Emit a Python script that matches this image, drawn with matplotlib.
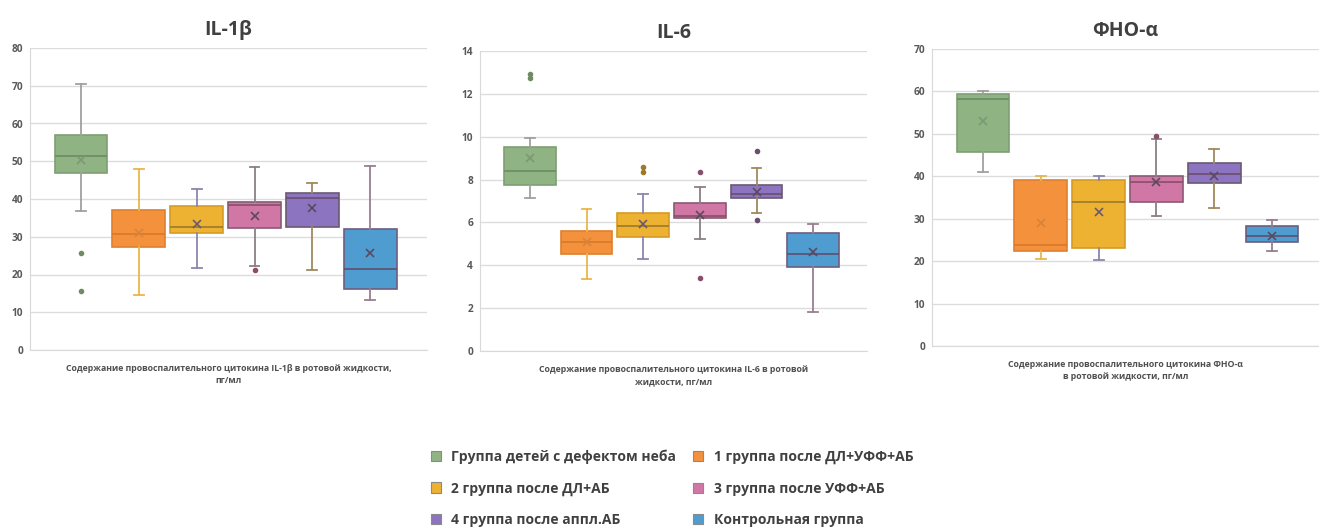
import numpy as np
import matplotlib
matplotlib.use('Agg')
import matplotlib.pyplot as plt
from matplotlib.patches import Patch

plt.rcParams['font.family'] = ['Open Sans', 'DejaVu Sans']

groups = ['Группа детей с дефектом неба', '1 группа после ДЛ+УФФ+АБ',
          '2 группа после ДЛ+АБ', '3 группа после УФФ+АБ',
          '4 группа после аппл.АБ', 'Контрольная группа']

# IL-1β
il1_lo = [36.7, 14.6, 21.7, 22.2, 21.2, 13.3]
il1_q1 = [47.0, 27.2, 31.1, 32.3, 32.6, 16.2]
il1_med = [51.4, 30.7, 32.7, 38.4, 40.3, 21.4]
il1_q3 = [56.9, 37.1, 38.1, 39.2, 41.6, 32.0]
il1_hi = [70.4, 48.0, 42.7, 48.4, 44.3, 48.7]
il1_mean = [50.3, 31.0, 33.3, 35.6, 37.5, 25.6]
il1_out = [[25.6, 15.7], [], [], [21.3], [], []]

# IL-6
il6_lo = [7.14, 3.34, 4.31, 5.21, 6.44, 1.80]
il6_q1 = [7.76, 4.54, 5.32, 6.21, 7.12, 3.92]
il6_med = [8.40, 5.07, 5.85, 6.31, 7.34, 4.53]
il6_q3 = [9.52, 5.60, 6.42, 6.92, 7.73, 5.51]
il6_hi = [9.94, 6.61, 7.33, 7.64, 8.54, 5.94]
il6_mean = [9.02, 5.10, 5.93, 6.36, 7.40, 4.62]
il6_out = [[12.94, 12.75], [], [8.57, 8.34], [8.34, 3.42], [9.35, 6.10], []]

# ФНО-α
tnf_lo = [40.9, 20.4, 20.2, 30.6, 32.6, 22.4]
tnf_q1 = [45.7, 22.4, 23.1, 34.0, 38.4, 24.4]
tnf_med = [58.2, 23.9, 34.0, 38.6, 40.5, 26.0]
tnf_q3 = [59.5, 39.2, 39.2, 40.1, 43.1, 28.2]
tnf_hi = [60.1, 40.1, 40.1, 48.7, 46.5, 29.8]
tnf_mean = [53.0, 29.0, 31.5, 38.6, 40.0, 26.0]
tnf_out = [[], [], [], [49.5], [], []]

face = ['#8fb383', '#f4913d', '#eeb232', '#d077a5', '#8c74c0', '#4f9dd0']
edge = ['#7d9f71', '#e07f2e', '#d79b24', '#8a5a72', '#6a5a70', '#6e5e80']
whisk = ['#a0a0a0', '#e8b64c', '#8c86ae', '#8a7f85', '#a08a5e', '#9a7e90']
medc = ['#6e8b63', '#d8782a', '#9c7a2a', '#8a4e6a', '#6a4e6e', '#5e4e70']
meanc = ['#7e9875', '#d9833a', '#6a5a70', '#5a4a60', '#5a4a60', '#5a4a60']


def make_stats(lo, q1, med, q3, hi, mean, out):
    return [dict(whislo=lo[i], q1=q1[i], med=med[i], q3=q3[i], whishi=hi[i],
                 mean=mean[i], fliers=out[i]) for i in range(len(lo))]


def panel(ax, stats, title, ymax, step, xlabel, xright):
    res = ax.bxp(stats, positions=np.arange(1, 7), widths=0.91, patch_artist=True,
                 showmeans=True, capwidths=0.17, zorder=3)
    for i in range(6):
        res['boxes'][i].set(facecolor=face[i], edgecolor=edge[i], linewidth=1.2)
        res['medians'][i].set(color=medc[i], linewidth=1.2)
        for w in res['whiskers'][2 * i:2 * i + 2] + res['caps'][2 * i:2 * i + 2]:
            w.set(color=whisk[i], linewidth=1.3)
        res['means'][i].set(marker='x', markeredgecolor=meanc[i], markersize=6,
                            markeredgewidth=1.2)
        res['fliers'][i].set(marker='o', markerfacecolor=medc[i], markeredgecolor=medc[i],
                             markersize=3)
    ax.set_xlim(0.12, xright)
    ax.set_ylim(0, ymax)
    ax.set_yticks(np.arange(0, ymax + step / 2, step))
    ax.set_xticks([])
    ax.grid(axis='y', color='#dcdcdc', linewidth=1.0, zorder=0)
    ax.set_axisbelow(True)
    for s in ['top', 'right']:
        ax.spines[s].set_visible(False)
    for s in ['left', 'bottom']:
        ax.spines[s].set_color('#d9d9d9')
    ax.tick_params(axis='y', length=0, pad=5, labelsize=7.3, labelcolor='#595959')
    for t in ax.get_yticklabels():
        t.set_fontweight('bold')
    ax.set_title(title, fontsize=14, fontweight='bold', color='#404040', pad=9)
    ax.set_xlabel(xlabel, fontsize=6.3, fontweight='bold', color='#505050', labelpad=10,
                  linespacing=1.5)


fig = plt.figure(figsize=(13.19, 5.27), dpi=100)
ax1 = fig.add_axes([30 / 1319, 1 - 350 / 527, 397 / 1319, 302 / 527])
ax2 = fig.add_axes([480 / 1319, 1 - 351 / 527, 387 / 1319, 300 / 527])
ax3 = fig.add_axes([932 / 1319, 1 - 346 / 527, 387 / 1319, 297 / 527])

panel(ax1, make_stats(il1_lo, il1_q1, il1_med, il1_q3, il1_hi, il1_mean, il1_out),
      'IL-1β', 80, 10,
      'Содержание провоспалительного цитокина IL-1β в ротовой жидкости,\nпг/мл', 6.98)
panel(ax2, make_stats(il6_lo, il6_q1, il6_med, il6_q3, il6_hi, il6_mean, il6_out),
      'IL-6', 14, 2,
      'Содержание провоспалительного цитокина IL-6 в ротовой\nжидкости, пг/мл', 6.95)
panel(ax3, make_stats(tnf_lo, tnf_q1, tnf_med, tnf_q3, tnf_hi, tnf_mean, tnf_out),
      'ФНО-α', 70, 10,
      'Содержание провоспалительного цитокина ФНО-α\nв ротовой жидкости, пг/мл', 6.81)

order = [0, 2, 4, 1, 3, 5]
handles = [Patch(facecolor=face[i], edgecolor='#8a8a8a', linewidth=0.8) for i in order]
labels = [groups[i] for i in order]
fig.legend(handles, labels, ncol=2, loc='upper left', bbox_to_anchor=(418 / 1319, 1 - 437 / 527),
           frameon=False, handlelength=0.75, handleheight=0.75, handletextpad=0.75,
           columnspacing=1.2, labelspacing=1.25,
           prop=dict(family=['Open Sans', 'DejaVu Sans'], weight='bold', size=10),
           labelcolor='#404040')

fig.savefig('out.png', dpi=100, facecolor='white')
